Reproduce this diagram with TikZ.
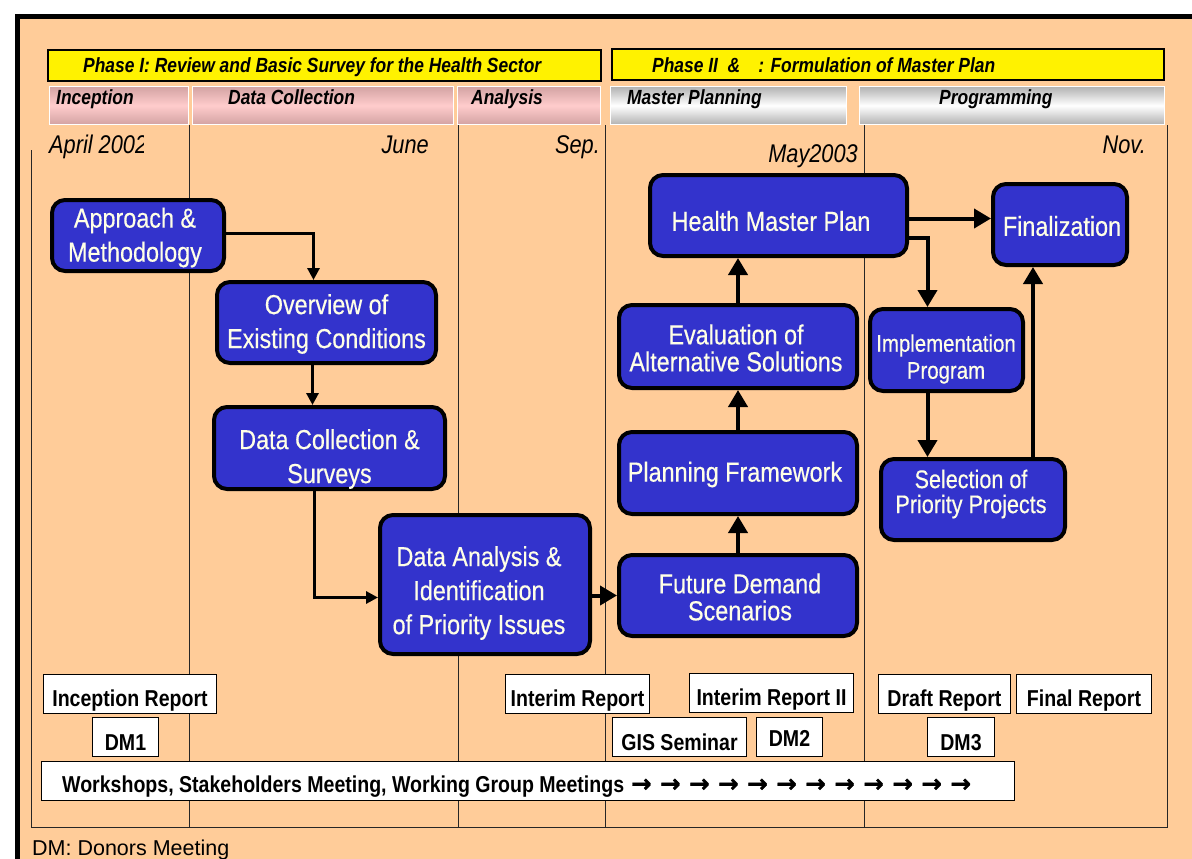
\documentclass[tikz,border=0pt]{standalone}
\usepackage{fontspec}
\setmainfont{Liberation Sans}
\newfontfamily\nar{Liberation Sans}[FakeStretch=0.85]
\newfontfamily\narb{Liberation Sans}[FakeStretch=0.85,FakeBold=0.4]
\newfontfamily\dvs{DejaVu Sans}[FakeBold=1.5]
\usetikzlibrary{arrows.meta}
\definecolor{peach}{HTML}{FFCC99}
\definecolor{bluebox}{HTML}{3333CC}
\definecolor{cream}{HTML}{FFFFE6}
\definecolor{pinkmid}{HTML}{FFCCCC}
\definecolor{pinkedge}{HTML}{D4A4A4}
\definecolor{grayedge}{HTML}{B4B4B4}
\tikzset{
  blk/.style={draw=black, line width=4pt, fill=bluebox, rounded corners=13pt, inner sep=0pt},
  btext/.style={text=cream, align=center, inner sep=0pt, font=\narb\fontsize{27.5}{34}\selectfont},
  rep/.style={draw=black, line width=1pt, fill=white, inner sep=0pt, text depth=0pt,
    font=\nar\bfseries\fontsize{23}{27}\selectfont},
  phasebar/.style={draw=black, line width=1.2pt, fill=yellow, inner sep=0pt},
  pinkbar/.style={draw=white, line width=1pt, inner sep=0pt, minimum height=37pt,
    top color=pinkedge, bottom color=pinkedge, middle color=pinkmid},
  graybar/.style={draw=white, line width=1pt, inner sep=0pt, minimum height=37pt,
    top color=grayedge, bottom color=grayedge, middle color=white},
  bartext/.style={inner sep=0pt, font=\nar\bfseries\itshape\fontsize{20.5}{24}\selectfont},
  datetext/.style={inner sep=0pt, font=\nar\itshape\fontsize{25.6}{30}\selectfont},
  gridline/.style={draw=black!85, line width=1pt},
  thinflow/.style={line width=3.5pt, -{Triangle[length=12pt,width=12pt]}},
  flow/.style={line width=4pt, -{Triangle[length=17pt,width=19pt]}},
}
\newcommand{\wsarr}{{\dvs\bfseries\fontsize{24.5}{28}\selectfont →}}
\begin{document}
\begin{tikzpicture}[x=1pt,y=-1pt]
\useasboundingbox (0,0) rectangle (1192,859);
\fill[white] (0,0) rectangle (1192,859);
\fill[peach] (17,16) rectangle (1192,859);
\draw[line width=4.6pt] (15,16.3) -- (1192,16.3);
\draw[line width=4.6pt] (17.5,14) -- (17.5,859);

% grid
\draw[gridline] (31,150) -- (31,827) -- (1167,827) -- (1167,125);
\foreach \x in {189,458,605,864} \draw[gridline] (\x,125) -- (\x,827);

% phase bars
\node[phasebar, minimum width=553pt, minimum height=31pt] (ph1) at (324.5,65.5) {};
\node[phasebar, minimum width=552pt, minimum height=31pt] (ph2) at (888,64.5) {};
\node[bartext, anchor=base west] (ph1t) at (83,73) {Phase I: Review and Basic Survey for the Health Sector};
\node[bartext, anchor=base west] (ph2t) at (652,73) {Phase II\ \ \&\hspace{18pt}: Formulation of Master Plan};

% sub bars
\node[pinkbar, minimum width=139pt] (sb1) at (118.5,105.5) {};
\node[pinkbar, minimum width=260.5pt] (sb2) at (322.75,105.5) {};
\node[pinkbar, minimum width=143pt] (sb3) at (528.5,105.5) {};
\node[graybar, minimum width=236pt] (sb4) at (728,105.5) {};
\node[graybar, minimum width=305pt] (sb5) at (1011.5,105.5) {};
\node[bartext, anchor=base west] (sb1t) at (56,105) {Inception};
\node[bartext, anchor=base west] (sb2t) at (228,105) {Data Collection};
\node[bartext, anchor=base west] (sb3t) at (471,105) {Analysis};
\node[bartext, anchor=base west] (sb4t) at (627,105) {Master Planning};
\node[bartext, anchor=base west] (sb5t) at (939,105) {Programming};

% dates
\begin{scope}
\clip (40,120) rectangle (143,170);
\node[datetext, anchor=base west] (d1) at (49,153) {April 2002};
\end{scope}
\node[datetext, anchor=base east] (d2) at (429,153) {June};
\node[datetext, anchor=base east] (d3) at (600,153) {Sep.};
\node[datetext, anchor=base east] (d4) at (858,162) {May2003};
\node[datetext, anchor=base east] (d5) at (1146,153) {Nov.};

% blue boxes
\node[blk, minimum width=172pt, minimum height=71pt] (app) at (138,235.5) {};
\node[blk, minimum width=219pt, minimum height=81pt] (ovr) at (326.5,322.5) {};
\node[blk, minimum width=231pt, minimum height=82pt] (dcs) at (329.5,448) {};
\node[blk, minimum width=210pt, minimum height=139pt] (dai) at (485,584.5) {};
\node[blk, minimum width=238pt, minimum height=81pt] (fds) at (738,595.5) {};
\node[blk, minimum width=238pt, minimum height=82pt] (pf) at (738,473) {};
\node[blk, minimum width=238pt, minimum height=83pt] (ev) at (738,346.5) {};
\node[blk, minimum width=257pt, minimum height=81pt] (hmp) at (778.5,215.5) {};
\node[blk, minimum width=134pt, minimum height=81pt] (fin) at (1060,224.5) {};
\node[blk, minimum width=153pt, minimum height=82pt] (imp) at (946.5,350) {};
\node[blk, minimum width=184pt, minimum height=81pt] (sel) at (973,499.5) {};

\node[btext] (appt) at (135,237.5) {Approach \&\\Methodology};
\node[btext] (ovrt) at (326.5,324) {Overview of\\Existing Conditions};
\node[btext] (dcst) at (329.5,459) {Data Collection \&\\Surveys};
\node[btext] (dait) at (479,593) {Data Analysis \&\\Identification\\of Priority Issues};
\node[btext, font=\narb\fontsize{27.5}{27}\selectfont] (fdst) at (740,597) {Future Demand\\Scenarios};
\node[btext] (pft) at (735,474.5) {Planning Framework};
\node[btext, font=\narb\fontsize{27.5}{27}\selectfont] (evt) at (736,348) {Evaluation of\\Alternative Solutions};
\node[btext] (hmpt) at (771,221) {Health Master Plan};
\node[btext] (fint) at (1062,226) {Finalization};
\node[btext, font=\narb\fontsize{24}{27}\selectfont] (impt) at (946,359) {Implementation\\Program};
\node[btext, font=\narb\fontsize{25.4}{25}\selectfont] (selt) at (971,494) {Selection of\\Priority Projects};

% connectors
\draw[thinflow] ([yshift=2pt]app.east) -| ([xshift=-13pt]ovr.north);
\draw[thinflow] ([xshift=-14pt]ovr.south) -- ([xshift=-14pt]ovr.south |- dcs.north);
\draw[thinflow] ([xshift=-15pt]dcs.south) |- ([yshift=-13pt]dai.west);
\draw[flow] (fds.west -| dai.east) -- (fds.west);
\draw[flow] (fds.north) -- (pf.south);
\draw[flow] (pf.north) -- (ev.south);
\draw[flow] (ev.north) -- (ev.north |- hmp.south);
\draw[flow] ([yshift=-3pt]hmp.east) -- ([yshift=-3pt]hmp.east -| fin.west);
\draw[flow] ([yshift=-22pt]hmp.east) -| ([xshift=-19pt]imp.north);
\draw[flow] ([xshift=-19pt]imp.south) -- ([xshift=-19pt]imp.south |- sel.north);
\draw[flow] ([xshift=60pt]sel.north) -- ([xshift=60pt]sel.north |- fin.south);

% report boxes
\node[rep, minimum width=173pt, minimum height=39pt, text height=24pt] (r1) at (130,694) {Inception Report};
\node[rep, minimum width=66pt, minimum height=39pt, text height=26pt] (dm1) at (125.5,737) {DM1};
\node[rep, minimum width=144pt, minimum height=39pt, text height=24pt] (r2) at (577.5,694) {Interim Report};
\node[rep, minimum width=164pt, minimum height=39pt, text height=24pt] (r3) at (771.5,693) {Interim Report II};
\node[rep, minimum width=134pt, minimum height=39pt, text height=26pt] (gis) at (679.5,737) {GIS Seminar};
\node[rep, minimum width=66pt, minimum height=39pt, text height=18pt] (dm2) at (789.5,737) {DM2};
\node[rep, minimum width=132pt, minimum height=39pt, text height=24pt] (r4) at (944.5,694) {Draft Report};
\node[rep, minimum width=135pt, minimum height=39pt, text height=24pt] (r5) at (1084,694) {Final Report};
\node[rep, minimum width=67pt, minimum height=39pt, text height=26pt] (dm3) at (961,737) {DM3};
\node[rep, minimum width=973pt, minimum height=39pt] (ws) at (528,781) {};
\begin{scope}
\clip (41,761) rectangle (1015,801);
\node[inner sep=0pt, anchor=base west, font=\nar\bfseries\fontsize{23}{27}\selectfont] (wst) at (62,792)
  {Workshops, Stakeholders Meeting, Working Group Meetings\hspace{7pt}\wsarr\hspace{8.5pt}\wsarr\hspace{8.5pt}\wsarr\hspace{8.5pt}\wsarr\hspace{8.5pt}\wsarr\hspace{8.5pt}\wsarr\hspace{8.5pt}\wsarr\hspace{8.5pt}\wsarr\hspace{8.5pt}\wsarr\hspace{8.5pt}\wsarr\hspace{8.5pt}\wsarr\hspace{8.5pt}\wsarr};
\end{scope}

\node[inner sep=0pt, anchor=base west, font=\fontsize{21.5}{25}\selectfont] (note) at (32,855) {DM: Donors Meeting};
\end{tikzpicture}
\end{document}
